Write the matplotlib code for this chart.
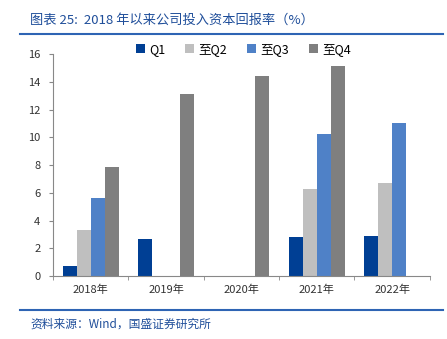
import matplotlib
matplotlib.use("Agg")
import matplotlib.pyplot as plt
import numpy as np

plt.rcParams['font.family'] = ['Noto Sans CJK SC', 'DejaVu Sans']

categories = ["2018年", "2019年", "2020年", "2021年", "2022年"]
series_names = ["Q1", "至Q2", "至Q3", "至Q4"]
q1 = [0.7, 2.65, np.nan, 2.8, 2.85]
q2 = [3.3, np.nan, np.nan, 6.25, 6.7]
q3 = [5.6, np.nan, np.nan, 10.2, 11.0]
q4 = [7.85, 13.1, 14.45, 15.15, np.nan]
yticks = [0, 2, 4, 6, 8, 10, 12, 14, 16]

colors = ["#003f94", "#bfbfbf", "#4f81c7", "#7f7f7f"]
title_blue = "#1f4e9a"

fig = plt.figure(figsize=(4.47, 3.39), dpi=100)
ax = fig.add_axes([0.1186, 0.1858, 0.843, 0.6549])

x = np.arange(len(categories))
w = 0.185
for i, (vals, name, c) in enumerate(zip([q1, q2, q3, q4], series_names, colors)):
    ax.bar(x + (i - 1.5) * w, vals, width=w, color=c, label=name)

ax.set_xlim(-0.5, len(categories) - 0.5)
ax.set_ylim(0, 16)
ax.set_yticks(yticks)
ax.set_yticklabels([str(t) for t in yticks], fontsize=8, color="#333333")
ax.set_xticks(x)
ax.set_xticklabels(categories, fontsize=8, color="#333333")
ax.tick_params(axis="x", length=0, pad=6)
ax.set_xticks(np.arange(len(categories) + 1) - 0.5, minor=True)
ax.tick_params(axis="x", which="minor", length=3, color="#888888", direction="out")
ax.tick_params(axis="y", length=3, color="#888888", direction="out", pad=6)
for s in ["top", "right"]:
    ax.spines[s].set_visible(False)
for s in ["left", "bottom"]:
    ax.spines[s].set_color("#888888")
    ax.spines[s].set_linewidth(0.8)

ax.legend(loc="upper center", bbox_to_anchor=(0.505, 1.1), ncol=4, frameon=False,
          fontsize=9, handlelength=0.7, handleheight=0.7, handletextpad=0.35,
          columnspacing=1.6)

fig.text(0.067, 0.94, "图表 25:  2018 年以来公司投入资本回报率（%）", fontsize=9.5,
         color=title_blue, style="italic", va="center", ha="left")
fig.add_artist(plt.Line2D([0.045, 0.99], [0.90, 0.90], color="#2e64b4", lw=1.5))
fig.add_artist(plt.Line2D([0.045, 0.99], [0.085, 0.085], color="#2e64b4", lw=1.5))
fig.text(0.067, 0.045, "资料来源：Wind，国盛证券研究所", fontsize=8.5,
         color=title_blue, style="italic", va="center", ha="left")

fig.savefig("out.png", dpi=100)
